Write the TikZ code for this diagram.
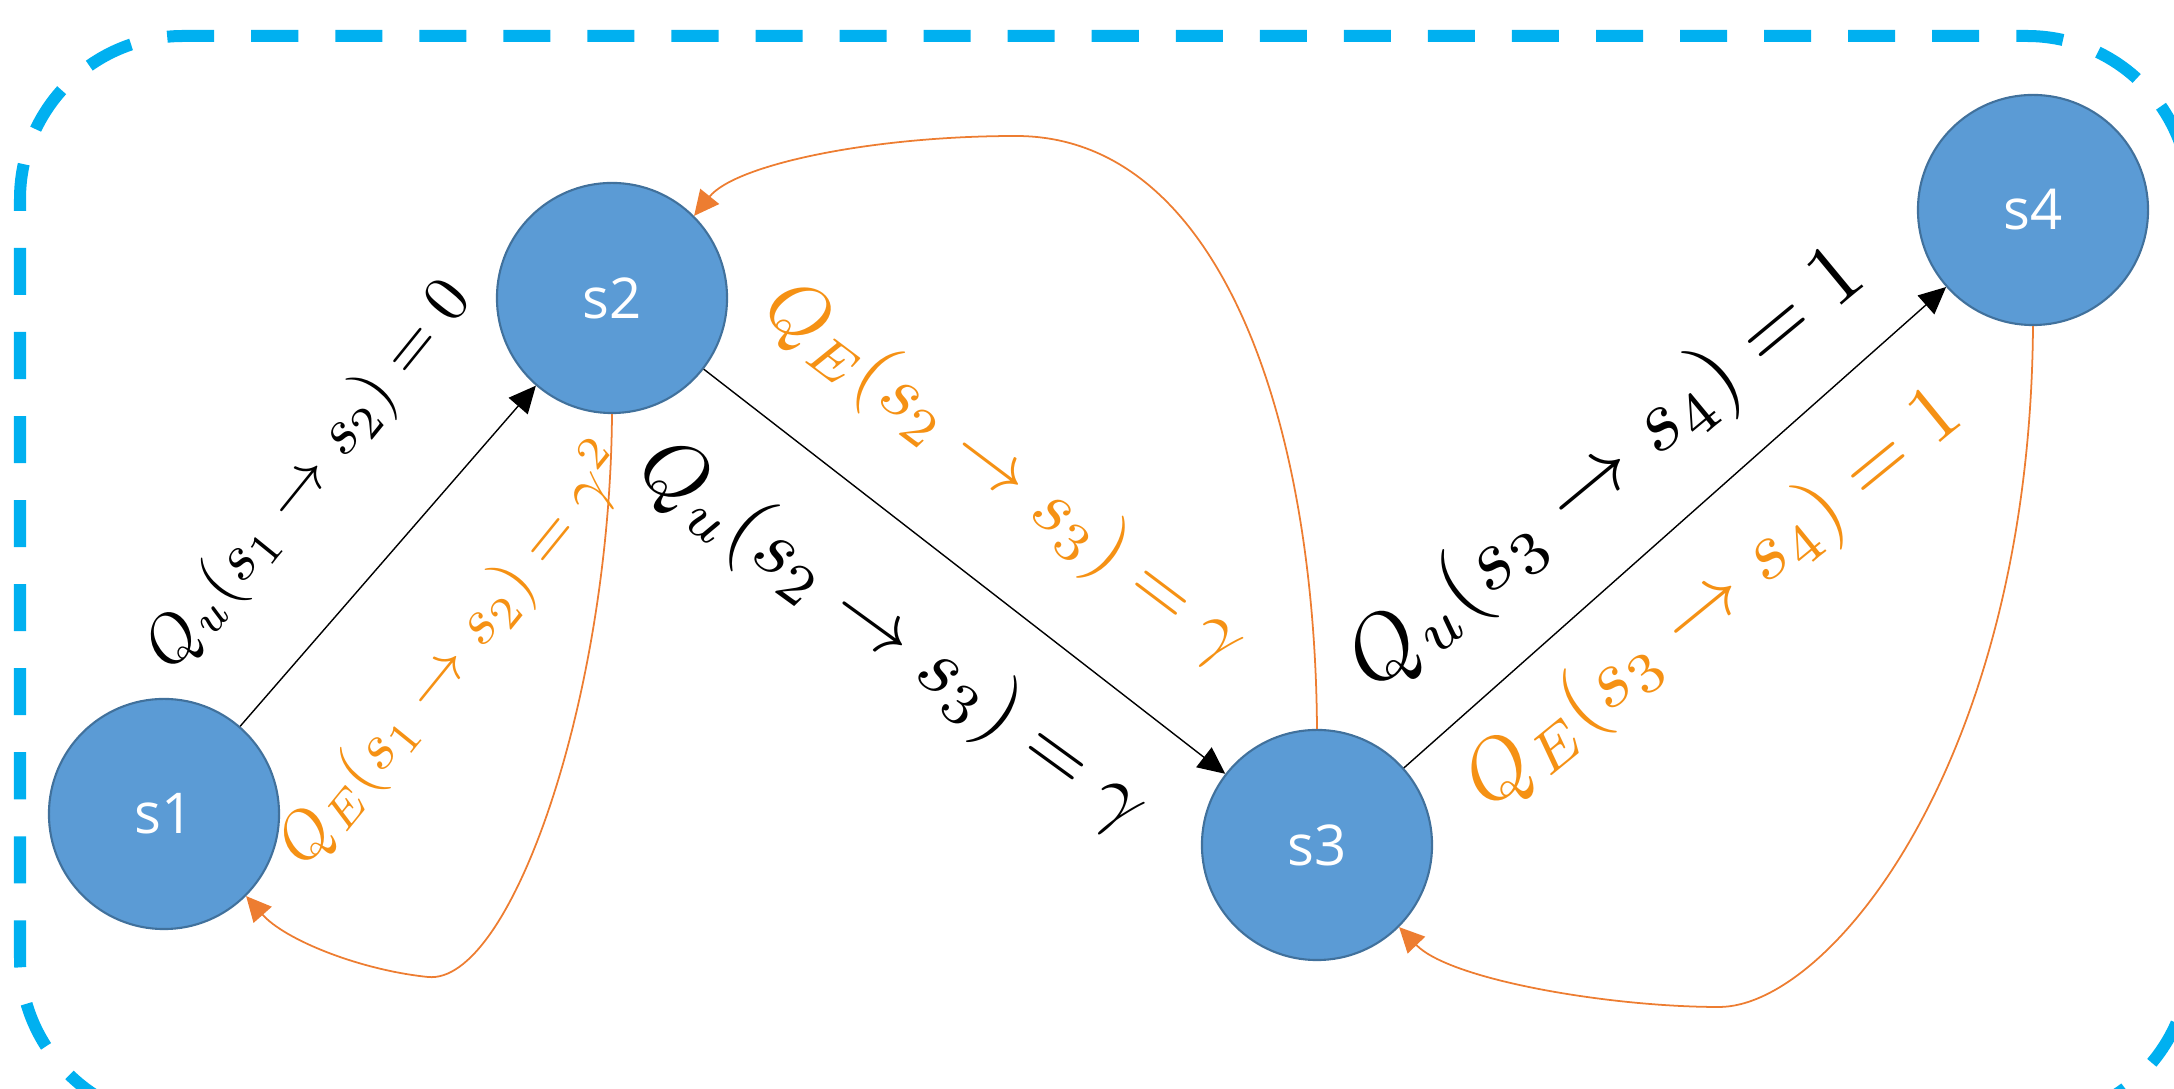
\documentclass[tikz,border=0pt]{standalone}
\usepackage{fontspec}
\newfontfamily\nodefont{Open Sans}
\usetikzlibrary{arrows.meta}
\definecolor{nodefill}{HTML}{5B9BD5}
\definecolor{nodeline}{HTML}{41719C}
\definecolor{framecol}{HTML}{00B0F0}
\definecolor{curvecol}{HTML}{ED7D31}
\definecolor{labelorange}{RGB}{245,145,20}
\begin{document}
\begin{tikzpicture}[x=0.01cm,y=-0.01cm,
  state/.style={circle, fill=nodefill, draw=nodeline, line width=0.6pt,
    minimum size=2.3cm, inner sep=0pt, text=white,
    font=\nodefont\fontsize{16}{19}\selectfont},
  fwd/.style={draw=black, line width=0.4pt, -{Triangle[length=0.27cm,width=0.25cm]}},
  back/.style={draw=curvecol, line width=0.5pt, -{Triangle[length=0.25cm,width=0.24cm]}},
  qlab/.style={inner sep=0pt, text=black},
  elab/.style={inner sep=0pt, text=labelorange},
  frame/.style={draw=framecol, line width=0.12cm, dash pattern=on 0.47cm off 0.37cm,
    dash phase=0.08cm, rounded corners=1.63cm}
]
\useasboundingbox (0,0) rectangle (2174,1089);
\draw[frame] (1100,1121) -- (20,1121) -- (20,36) -- (2190,36) -- (2190,1121) -- cycle;

\node[state] (s1) at (164,814) {s1};
\node[state] (s2) at (612,298) {s2};
\node[state] (s3) at (1317,845) {s3};
\node[state] (s4) at (2033,210) {s4};

\draw[fwd] (s1) -- (s2);
\draw[fwd] (s2) -- (s3);
\draw[fwd] (s3) -- (s4);

\draw[back] (s2.south) .. controls (610,700) and (510,985) .. (428,977)
  .. controls (360,970) and (285,940) .. (s1.-45);
\draw[back] (s3.north) .. controls (1315,420) and (1220,136) .. (1016,136)
  .. controls (870,136) and (735,165) .. (s2.45);
\draw[back] (s4.south) .. controls (2030,760) and (1830,1007) .. (1719,1007)
  .. controls (1610,1007) and (1450,980) .. (s3.-45);

\node[qlab, rotate=51, scale=1.86] (l1) at (310,476) {$Q_u(s_1\rightarrow s_2)=0$};
\node[elab, rotate=51, scale=1.85] (l2) at (455,655) {$Q_E(s_1\rightarrow s_2)=\gamma^2$};
\node[qlab, rotate=-36, scale=2.34] (l3) at (893,638) {$Q_u(s_2\rightarrow s_3)=\gamma$};
\node[elab, rotate=-37, scale=2.2] (l4) at (1005,475) {$Q_E(s_2\rightarrow s_3)=\gamma$};
\node[qlab, rotate=39.6, scale=2.5] (l5) at (1608,470) {$Q_u(s_3\rightarrow s_4)=1$};
\node[elab, rotate=39.2, scale=2.34] (l6) at (1715,600) {$Q_E(s_3\rightarrow s_4)=1$};
\end{tikzpicture}
\end{document}
